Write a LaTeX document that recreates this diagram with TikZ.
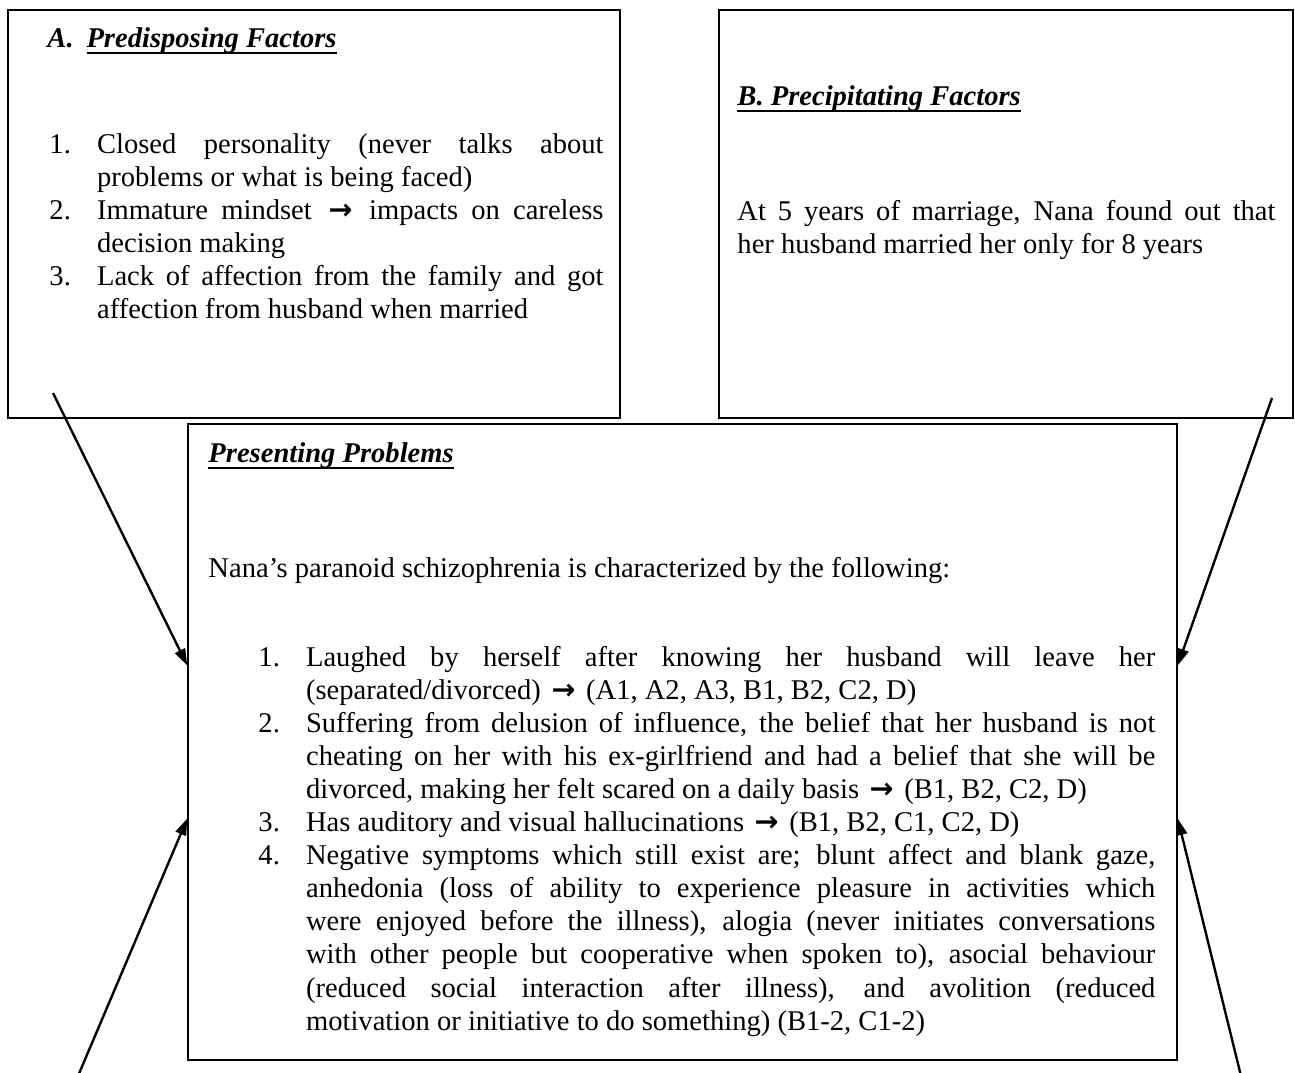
\documentclass[tikz,border=0pt]{standalone}
\usepackage{fontspec}
\setmainfont{Liberation Serif}
\newfontfamily\arrowfont{DejaVu Sans}
\usepackage{tikz}
\usetikzlibrary{arrows.meta,calc,fit}

\newsavebox{\hdbox}
\newcommand{\headul}[1]{\sbox{\hdbox}{#1}\rlap{\rule[-3pt]{\wd\hdbox}{1pt}}\usebox{\hdbox}}
\newcommand{\impto}{\makebox[13pt][c]{\arrowfont\bfseries →}}
\newcommand{\numitem}[2]{\par\noindent\hangindent=20pt\hangafter=1\makebox[20pt][l]{#1}#2\par}

\begin{document}
\begin{tikzpicture}[x=0.42pt, y=-0.42pt,
  every node/.style={font=\fontsize{12}{13.9}\selectfont},
  box/.style={draw, line width=0.6pt, inner sep=0pt},
  txt/.style={anchor=base west, inner sep=0pt, align=justify},
  conn/.style={line width=1pt, -{Triangle[length=7pt, width=4.6pt]}}]

  \useasboundingbox (0,0) rectangle (1295,1072);

  % === Box A: predisposing factors ===
  \node[box, fit={(8,10) (620,418)}] (boxA) {};
  \node[txt] (headA) at (47,47)
    {\textbf{\textit{\makebox[16.4pt][l]{A.}\headul{Predisposing Factors}}}};
  \node[txt, text width=232.7pt] (listA) at (49,120) {%
    \numitem{1.}{Closed personality (never talks about \linebreak problems or what is being faced)}%
    \numitem{2.}{Immature mindset \impto{} impacts on careless \linebreak decision making}%
    \numitem{3.}{Lack of affection from the family and got \linebreak affection from husband when married}};

  % === Box B: precipitating factors ===
  \node[box, fit={(719,10) (1293,418)}] (boxB) {};
  \node[txt] (headB) at (737,105)
    {\textbf{\textit{\headul{B. Precipitating Factors}}}};
  \node[txt, text width=226pt] (textB) at (737,220)
    {At 5 years of marriage, Nana found out that \linebreak her husband married her only for 8 years};

  % === Centre box: presenting problems ===
  \node[box, fit={(188,424) (1177,1060)}] (prob) {};
  \node[txt] (headP) at (208,462)
    {\textbf{\textit{\headul{Presenting Problems}}}};
  \node[txt] (introP) at (208,577)
    {Nana’s paranoid schizophrenia is characterized by the following:};
  \node[txt, text width=376.7pt] (listP) at (258,633) {%
    \numitem{1.}{Laughed by herself after knowing her husband will leave her \linebreak (separated/divorced) \impto{} (A1, A2, A3, B1, B2, C2, D)}%
    \numitem{2.}{Suffering from delusion of influence, the belief that her husband is not \linebreak cheating on her with his ex-girlfriend and had a belief that she will be \linebreak divorced, making her felt scared on a daily basis \impto{} (B1, B2, C2, D)}%
    \numitem{3.}{Has auditory and visual hallucinations \impto{} (B1, B2, C1, C2, D)}%
    \numitem{4.}{Negative symptoms which still exist are; blunt affect and blank gaze, \linebreak anhedonia (loss of ability to experience pleasure in activities which \linebreak were enjoyed before the illness), alogia (never initiates conversations \linebreak with other people but cooperative when spoken to), asocial behaviour \linebreak (reduced social interaction after illness), and avolition (reduced \linebreak motivation or initiative to do something) (B1-2, C1-2)}};

  % Arrows into the centre box
  \coordinate (startA) at (53,393);
  \coordinate (startB) at (1272,398);
  \coordinate (startL) at (78,1076);
  \coordinate (startR) at (1241,1076);
  \coordinate (inA) at ($(prob.north west)!0.38!(prob.south west)$);
  \coordinate (inB) at ($(prob.north east)!0.38!(prob.south east)$);
  \coordinate (inL) at ($(prob.north west)!0.62!(prob.south west)$);
  \coordinate (inR) at ($(prob.north east)!0.62!(prob.south east)$);
  \draw[conn] (startA) -- (inA);
  \draw[conn] (startB) -- (inB);
  \draw[conn] (startL) -- (inL);
  \draw[conn] (startR) -- (inR);

\end{tikzpicture}
\end{document}
